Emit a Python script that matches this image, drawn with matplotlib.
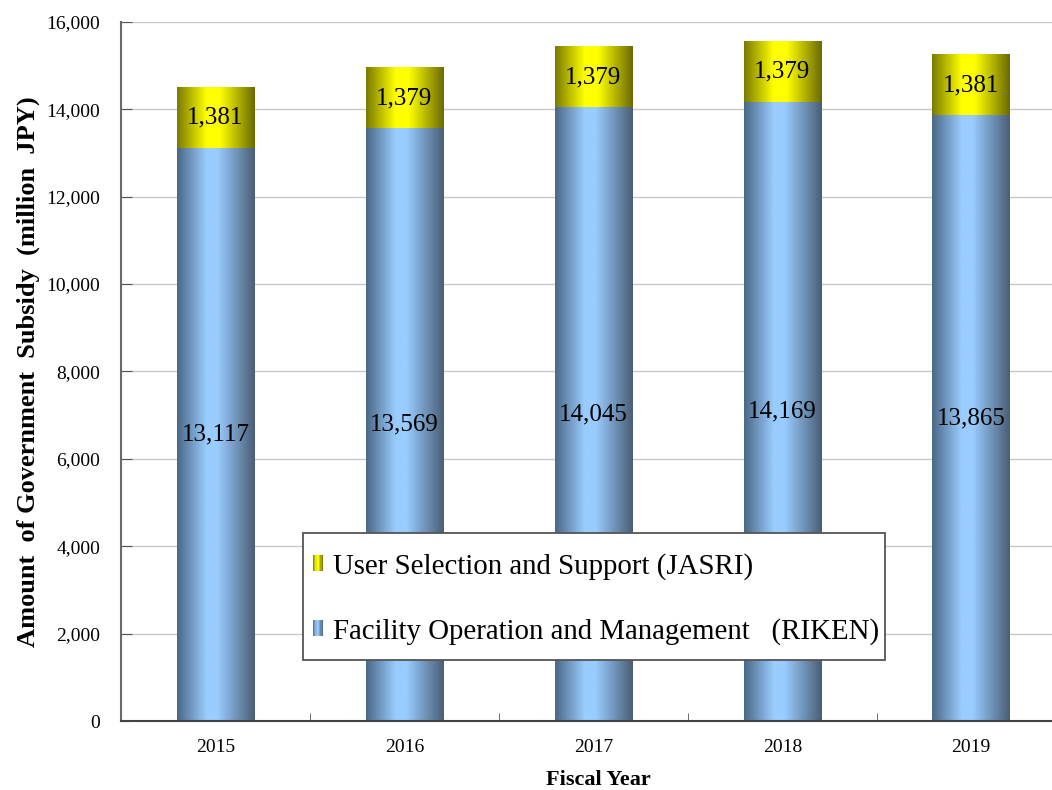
import numpy as np
import matplotlib
matplotlib.use('Agg')
import matplotlib.pyplot as plt
from matplotlib.colors import LinearSegmentedColormap
from matplotlib.patches import Patch, Rectangle
from matplotlib.legend_handler import HandlerBase
from matplotlib.ticker import FuncFormatter, MultipleLocator

# data
years = ['2015', '2016', '2017', '2018', '2019']
riken = [13117, 13569, 14045, 14169, 13865]
jasri = [1381, 1379, 1379, 1379, 1381]
lab_riken = 'Facility Operation and Management   (RIKEN)'
lab_jasri = 'User Selection and Support (JASRI)'

plt.rcParams['font.family'] = ['Liberation Serif', 'DejaVu Serif']

# cylinder-like shading
blue_cm = LinearSegmentedColormap.from_list(
    'blue', [(0.0, '#4b6786'), (0.38, '#99ccff'), (0.52, '#99ccff'), (1.0, '#4a5e76')])
yel_cm = LinearSegmentedColormap.from_list(
    'yel', [(0.0, '#7a7a00'), (0.38, '#ffff00'), (0.55, '#ffff00'), (1.0, '#6a6a00')])


class GradHandler(HandlerBase):
    def __init__(self, cmap):
        super().__init__()
        self.cmap = cmap

    def create_artists(self, legend, orig_handle, xdescent, ydescent,
                       width, height, fontsize, trans):
        n = 8
        arts = []
        for i in range(n):
            arts.append(Rectangle((-xdescent + i * width / n, -ydescent), width / n, height,
                                  facecolor=self.cmap((i + 0.5) / n), edgecolor='none',
                                  transform=trans))
        return arts


fig = plt.figure(figsize=(10.52, 7.9), dpi=100)
ax = fig.add_axes([0.115, 0.0873, 0.898, 0.885])

x = np.arange(len(years))
w = 0.41
b1 = ax.bar(x, riken, w, color='none', edgecolor='none', zorder=2)
b2 = ax.bar(x, jasri, w, bottom=riken, color='none', edgecolor='none', zorder=2)

grad = np.linspace(0, 1, 256).reshape(1, -1)
for bars, cm in ((b1, blue_cm), (b2, yel_cm)):
    for p in bars:
        x0, y0 = p.get_x(), p.get_y()
        ax.imshow(grad, extent=[x0, x0 + p.get_width(), y0, y0 + p.get_height()],
                  aspect='auto', cmap=cm, zorder=2, interpolation='bilinear')

for i in range(len(years)):
    ax.text(x[i], riken[i] / 2, f'{riken[i]:,}', ha='center', va='center',
            fontsize=18, zorder=3)
    ax.text(x[i], riken[i] + jasri[i] / 2, f'{jasri[i]:,}', ha='center', va='center',
            fontsize=18, zorder=3)

ax.set_xlim(-0.5, len(years) - 0.5)
ax.set_ylim(0, 16000)
ax.yaxis.set_major_locator(MultipleLocator(2000))
ax.yaxis.set_major_formatter(FuncFormatter(lambda v, pos: f'{int(v):,}'))
ax.grid(axis='y', color='#c8c8c8', linewidth=1, zorder=0)
ax.set_axisbelow(True)

ax.set_xticks(x)
ax.set_xticklabels(years)
ax.set_xticks(np.arange(len(years) - 1) + 0.5, minor=True)
ax.tick_params(axis='x', which='major', length=0, pad=13, labelsize=14)
ax.tick_params(axis='x', which='minor', length=6, direction='in', color='#555555')
ax.tick_params(axis='y', length=8, direction='in', color='#555555', labelsize=14, pad=15)

for s in ('top', 'right'):
    ax.spines[s].set_visible(False)
ax.spines['left'].set_color('#6a6a6a')
ax.spines['left'].set_linewidth(1.5)
ax.spines['bottom'].set_color('#444444')
ax.spines['bottom'].set_linewidth(1.5)

ax.set_xlabel('Fiscal Year', fontsize=16, fontweight='bold')
ax.xaxis.set_label_coords(0.505, -0.07)
ax.set_ylabel('Amount  of Government  Subsidy  (million  JPY)', fontsize=19,
              fontweight='bold')
ax.yaxis.set_label_coords(-0.086, 0.5)

# legend box drawn separately so the padding can match
box = Rectangle((0.1926, 0.0873), 0.6159, 0.1817, transform=ax.transAxes,
                facecolor='white', edgecolor='#555555', linewidth=1.3, zorder=4)
ax.add_patch(box)
h_j = Patch(label=lab_jasri)
h_r = Patch(label=lab_riken)
leg = ax.legend(handles=[h_j, h_r], loc='center left', bbox_to_anchor=(0.2032, 0.175),
                fontsize=20.8, frameon=False, borderpad=0, borderaxespad=0,
                handlelength=0.34, handleheight=0.5, handletextpad=0.34,
                labelspacing=1.32,
                handler_map={h_j: GradHandler(yel_cm), h_r: GradHandler(blue_cm)})
leg.set_zorder(5)

fig.savefig('out.png', dpi=100)
